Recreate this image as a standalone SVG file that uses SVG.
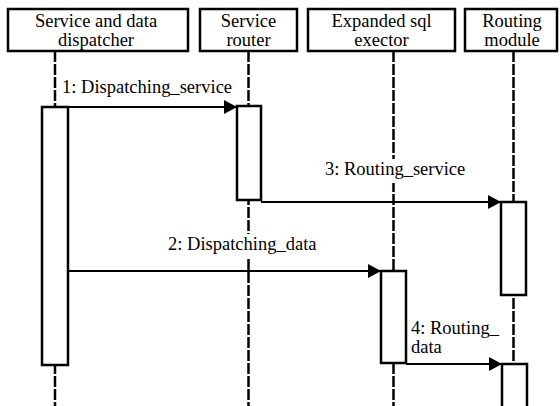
<svg xmlns="http://www.w3.org/2000/svg" width="560" height="406" viewBox="0 0 560 406">
  <style>
    .head { fill: #fff; stroke: #000; stroke-width: 2.5; }
    .bar { fill: #fff; stroke: #000; stroke-width: 2.5; }
    .life { stroke: #000; stroke-width: 2.5; stroke-dasharray: 11 2; fill: none; }
    .msg { stroke: #000; stroke-width: 2; fill: none; marker-end: url(#arrow); }
    .c { text-anchor: middle; }
    .bg { fill: #fff; }
  </style>
  <defs>
    <marker id="arrow" markerUnits="userSpaceOnUse" markerWidth="14" markerHeight="16" refX="13" refY="7" orient="auto">
      <path d="M0,0 L13,7 L0,14 Z" fill="#000"/>
    </marker>
  </defs>

  <!-- lifelines -->
  <g id="lifelines">
    <line class="life" x1="55" y1="51" x2="55" y2="406"/>
    <line class="life" x1="248.5" y1="51" x2="248.5" y2="406"/>
    <line class="life" x1="393.5" y1="51" x2="393.5" y2="406"/>
    <line class="life" x1="513.5" y1="51" x2="513.5" y2="406"/>
  </g>

  <g font-family="Times New Roman, Liberation Serif, Tinos, DejaVu Serif, serif" font-size="18.5" fill="#000">
    <!-- participant heads with their activation bars -->
    <g id="dispatcher">
      <rect class="head" x="8" y="9" width="180" height="42"/>
      <text class="c" x="96" y="27">Service and data</text>
      <text class="c" x="96" y="46">dispatcher</text>
      <rect class="bar" x="42" y="107" width="26" height="258"/>
    </g>
    <g id="service-router">
      <rect class="head" x="200" y="9" width="97" height="42"/>
      <text class="c" x="248.5" y="27">Service</text>
      <text class="c" x="248.5" y="46">router</text>
      <rect class="bar" x="237" y="106" width="24" height="94"/>
    </g>
    <g id="sql-executor">
      <rect class="head" x="308" y="9" width="147" height="42"/>
      <text class="c" x="381.5" y="27">Expanded sql</text>
      <text class="c" x="381.5" y="46">exector</text>
      <rect class="bar" x="381" y="271" width="25" height="92"/>
    </g>
    <g id="routing-module">
      <rect class="head" x="465" y="9" width="92" height="42"/>
      <text class="c" x="512" y="27">Routing</text>
      <text class="c" x="512" y="46">module</text>
      <rect class="bar" x="501" y="202" width="25" height="93"/>
      <path class="bar" d="M502,406 V364 H527 V406"/>
    </g>

    <!-- messages -->
    <g id="connectors">
      <line class="msg" x1="68" y1="107" x2="237" y2="107"/>
      <line class="msg" x1="261" y1="202" x2="501" y2="202"/>
      <line class="msg" x1="68" y1="271" x2="381" y2="271"/>
      <line class="msg" x1="406" y1="364" x2="502" y2="364"/>
    </g>

    <g id="labels">
      <text x="62" y="93">1: Dispatching_service</text>
      <rect class="bg" x="322" y="159" width="150" height="24"/>
      <text x="325" y="175">3: Routing_service</text>
      <rect class="bg" x="166" y="234" width="160" height="23"/>
      <text x="168" y="250">2: Dispatching_data</text>
      <text x="411" y="334">4: Routing_</text>
      <text x="411" y="353">data</text>
    </g>
  </g>
</svg>
